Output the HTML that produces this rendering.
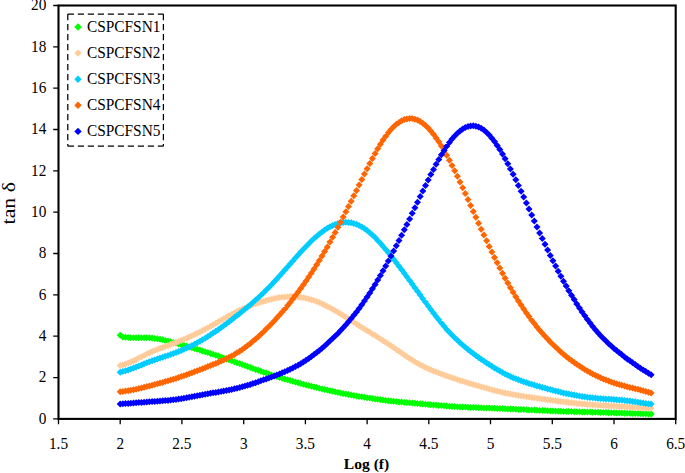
<!DOCTYPE html><html><head><meta charset="utf-8"><style>html,body{margin:0;padding:0;background:#fff;}svg{display:block;}text{font-family:"Liberation Serif",serif;fill:#000;}</style></head><body>
<svg width="685" height="473" viewBox="0 0 685 473">
<rect x="0" y="0" width="685" height="473" fill="#fff"/>
<path fill="#00ff00" d="M120.2 331.7l3.5 3.5l-3.5 3.5l-3.5 -3.5zM122.9 333.4l3.5 3.5l-3.5 3.5l-3.5 -3.5zM125.5 333.8l3.5 3.5l-3.5 3.5l-3.5 -3.5zM128.2 334.1l3.5 3.5l-3.5 3.5l-3.5 -3.5zM130.8 334.2l3.5 3.5l-3.5 3.5l-3.5 -3.5zM133.5 334.3l3.5 3.5l-3.5 3.5l-3.5 -3.5zM136.1 334.3l3.5 3.5l-3.5 3.5l-3.5 -3.5zM138.8 334.2l3.5 3.5l-3.5 3.5l-3.5 -3.5zM141.5 334.2l3.5 3.5l-3.5 3.5l-3.5 -3.5zM144.1 334.2l3.5 3.5l-3.5 3.5l-3.5 -3.5zM146.8 334.2l3.5 3.5l-3.5 3.5l-3.5 -3.5zM149.4 334.3l3.5 3.5l-3.5 3.5l-3.5 -3.5zM152.1 334.6l3.5 3.5l-3.5 3.5l-3.5 -3.5zM154.7 334.9l3.5 3.5l-3.5 3.5l-3.5 -3.5zM157.4 335.3l3.5 3.5l-3.5 3.5l-3.5 -3.5zM160.0 335.7l3.5 3.5l-3.5 3.5l-3.5 -3.5zM162.7 336.3l3.5 3.5l-3.5 3.5l-3.5 -3.5zM165.3 336.9l3.5 3.5l-3.5 3.5l-3.5 -3.5zM168.0 337.5l3.5 3.5l-3.5 3.5l-3.5 -3.5zM170.7 338.2l3.5 3.5l-3.5 3.5l-3.5 -3.5zM173.3 338.9l3.5 3.5l-3.5 3.5l-3.5 -3.5zM176.0 339.6l3.5 3.5l-3.5 3.5l-3.5 -3.5zM178.6 340.4l3.5 3.5l-3.5 3.5l-3.5 -3.5zM181.3 341.1l3.5 3.5l-3.5 3.5l-3.5 -3.5zM183.9 341.9l3.5 3.5l-3.5 3.5l-3.5 -3.5zM186.6 342.6l3.5 3.5l-3.5 3.5l-3.5 -3.5zM189.2 343.4l3.5 3.5l-3.5 3.5l-3.5 -3.5zM191.9 344.2l3.5 3.5l-3.5 3.5l-3.5 -3.5zM194.5 345.0l3.5 3.5l-3.5 3.5l-3.5 -3.5zM197.2 345.8l3.5 3.5l-3.5 3.5l-3.5 -3.5zM199.9 346.6l3.5 3.5l-3.5 3.5l-3.5 -3.5zM202.5 347.4l3.5 3.5l-3.5 3.5l-3.5 -3.5zM205.2 348.2l3.5 3.5l-3.5 3.5l-3.5 -3.5zM207.8 349.1l3.5 3.5l-3.5 3.5l-3.5 -3.5zM210.5 349.9l3.5 3.5l-3.5 3.5l-3.5 -3.5zM213.1 350.8l3.5 3.5l-3.5 3.5l-3.5 -3.5zM215.8 351.7l3.5 3.5l-3.5 3.5l-3.5 -3.5zM218.4 352.6l3.5 3.5l-3.5 3.5l-3.5 -3.5zM221.1 353.5l3.5 3.5l-3.5 3.5l-3.5 -3.5zM223.7 354.4l3.5 3.5l-3.5 3.5l-3.5 -3.5zM226.4 355.4l3.5 3.5l-3.5 3.5l-3.5 -3.5zM229.1 356.3l3.5 3.5l-3.5 3.5l-3.5 -3.5zM231.7 357.2l3.5 3.5l-3.5 3.5l-3.5 -3.5zM234.4 358.2l3.5 3.5l-3.5 3.5l-3.5 -3.5zM237.0 359.2l3.5 3.5l-3.5 3.5l-3.5 -3.5zM239.7 360.1l3.5 3.5l-3.5 3.5l-3.5 -3.5zM242.3 361.1l3.5 3.5l-3.5 3.5l-3.5 -3.5zM245.0 362.1l3.5 3.5l-3.5 3.5l-3.5 -3.5zM247.6 363.0l3.5 3.5l-3.5 3.5l-3.5 -3.5zM250.3 364.0l3.5 3.5l-3.5 3.5l-3.5 -3.5zM252.9 364.9l3.5 3.5l-3.5 3.5l-3.5 -3.5zM255.6 365.9l3.5 3.5l-3.5 3.5l-3.5 -3.5zM258.3 366.8l3.5 3.5l-3.5 3.5l-3.5 -3.5zM260.9 367.8l3.5 3.5l-3.5 3.5l-3.5 -3.5zM263.6 368.7l3.5 3.5l-3.5 3.5l-3.5 -3.5zM266.2 369.6l3.5 3.5l-3.5 3.5l-3.5 -3.5zM268.9 370.5l3.5 3.5l-3.5 3.5l-3.5 -3.5zM271.5 371.4l3.5 3.5l-3.5 3.5l-3.5 -3.5zM274.2 372.2l3.5 3.5l-3.5 3.5l-3.5 -3.5zM276.8 373.0l3.5 3.5l-3.5 3.5l-3.5 -3.5zM279.5 373.9l3.5 3.5l-3.5 3.5l-3.5 -3.5zM282.2 374.7l3.5 3.5l-3.5 3.5l-3.5 -3.5zM284.8 375.5l3.5 3.5l-3.5 3.5l-3.5 -3.5zM287.5 376.2l3.5 3.5l-3.5 3.5l-3.5 -3.5zM290.1 377.0l3.5 3.5l-3.5 3.5l-3.5 -3.5zM292.8 377.8l3.5 3.5l-3.5 3.5l-3.5 -3.5zM295.4 378.5l3.5 3.5l-3.5 3.5l-3.5 -3.5zM298.1 379.2l3.5 3.5l-3.5 3.5l-3.5 -3.5zM300.7 380.0l3.5 3.5l-3.5 3.5l-3.5 -3.5zM303.4 380.7l3.5 3.5l-3.5 3.5l-3.5 -3.5zM306.0 381.4l3.5 3.5l-3.5 3.5l-3.5 -3.5zM308.7 382.1l3.5 3.5l-3.5 3.5l-3.5 -3.5zM311.4 382.8l3.5 3.5l-3.5 3.5l-3.5 -3.5zM314.0 383.4l3.5 3.5l-3.5 3.5l-3.5 -3.5zM316.7 384.1l3.5 3.5l-3.5 3.5l-3.5 -3.5zM319.3 384.7l3.5 3.5l-3.5 3.5l-3.5 -3.5zM322.0 385.4l3.5 3.5l-3.5 3.5l-3.5 -3.5zM324.6 386.0l3.5 3.5l-3.5 3.5l-3.5 -3.5zM327.3 386.6l3.5 3.5l-3.5 3.5l-3.5 -3.5zM329.9 387.2l3.5 3.5l-3.5 3.5l-3.5 -3.5zM332.6 387.8l3.5 3.5l-3.5 3.5l-3.5 -3.5zM335.2 388.3l3.5 3.5l-3.5 3.5l-3.5 -3.5zM337.9 388.9l3.5 3.5l-3.5 3.5l-3.5 -3.5zM340.6 389.4l3.5 3.5l-3.5 3.5l-3.5 -3.5zM343.2 389.9l3.5 3.5l-3.5 3.5l-3.5 -3.5zM345.9 390.5l3.5 3.5l-3.5 3.5l-3.5 -3.5zM348.5 391.0l3.5 3.5l-3.5 3.5l-3.5 -3.5zM351.2 391.4l3.5 3.5l-3.5 3.5l-3.5 -3.5zM353.8 391.9l3.5 3.5l-3.5 3.5l-3.5 -3.5zM356.5 392.4l3.5 3.5l-3.5 3.5l-3.5 -3.5zM359.1 392.9l3.5 3.5l-3.5 3.5l-3.5 -3.5zM361.8 393.3l3.5 3.5l-3.5 3.5l-3.5 -3.5zM364.4 393.8l3.5 3.5l-3.5 3.5l-3.5 -3.5zM367.1 394.2l3.5 3.5l-3.5 3.5l-3.5 -3.5zM369.8 394.6l3.5 3.5l-3.5 3.5l-3.5 -3.5zM372.4 395.0l3.5 3.5l-3.5 3.5l-3.5 -3.5zM375.1 395.4l3.5 3.5l-3.5 3.5l-3.5 -3.5zM377.7 395.8l3.5 3.5l-3.5 3.5l-3.5 -3.5zM380.4 396.2l3.5 3.5l-3.5 3.5l-3.5 -3.5zM383.0 396.6l3.5 3.5l-3.5 3.5l-3.5 -3.5zM385.7 396.9l3.5 3.5l-3.5 3.5l-3.5 -3.5zM388.3 397.2l3.5 3.5l-3.5 3.5l-3.5 -3.5zM391.0 397.5l3.5 3.5l-3.5 3.5l-3.5 -3.5zM393.6 397.8l3.5 3.5l-3.5 3.5l-3.5 -3.5zM396.3 398.1l3.5 3.5l-3.5 3.5l-3.5 -3.5zM399.0 398.4l3.5 3.5l-3.5 3.5l-3.5 -3.5zM401.6 398.6l3.5 3.5l-3.5 3.5l-3.5 -3.5zM404.3 398.9l3.5 3.5l-3.5 3.5l-3.5 -3.5zM406.9 399.1l3.5 3.5l-3.5 3.5l-3.5 -3.5zM409.6 399.3l3.5 3.5l-3.5 3.5l-3.5 -3.5zM412.2 399.5l3.5 3.5l-3.5 3.5l-3.5 -3.5zM414.9 399.8l3.5 3.5l-3.5 3.5l-3.5 -3.5zM417.5 400.0l3.5 3.5l-3.5 3.5l-3.5 -3.5zM420.2 400.2l3.5 3.5l-3.5 3.5l-3.5 -3.5zM422.8 400.5l3.5 3.5l-3.5 3.5l-3.5 -3.5zM425.5 400.7l3.5 3.5l-3.5 3.5l-3.5 -3.5zM428.2 401.0l3.5 3.5l-3.5 3.5l-3.5 -3.5zM430.8 401.2l3.5 3.5l-3.5 3.5l-3.5 -3.5zM433.5 401.4l3.5 3.5l-3.5 3.5l-3.5 -3.5zM436.1 401.6l3.5 3.5l-3.5 3.5l-3.5 -3.5zM438.8 401.9l3.5 3.5l-3.5 3.5l-3.5 -3.5zM441.4 402.1l3.5 3.5l-3.5 3.5l-3.5 -3.5zM444.1 402.3l3.5 3.5l-3.5 3.5l-3.5 -3.5zM446.7 402.5l3.5 3.5l-3.5 3.5l-3.5 -3.5zM449.4 402.7l3.5 3.5l-3.5 3.5l-3.5 -3.5zM452.0 402.9l3.5 3.5l-3.5 3.5l-3.5 -3.5zM454.7 403.0l3.5 3.5l-3.5 3.5l-3.5 -3.5zM457.4 403.2l3.5 3.5l-3.5 3.5l-3.5 -3.5zM460.0 403.4l3.5 3.5l-3.5 3.5l-3.5 -3.5zM462.7 403.5l3.5 3.5l-3.5 3.5l-3.5 -3.5zM465.3 403.6l3.5 3.5l-3.5 3.5l-3.5 -3.5zM468.0 403.8l3.5 3.5l-3.5 3.5l-3.5 -3.5zM470.6 403.9l3.5 3.5l-3.5 3.5l-3.5 -3.5zM473.3 404.0l3.5 3.5l-3.5 3.5l-3.5 -3.5zM475.9 404.1l3.5 3.5l-3.5 3.5l-3.5 -3.5zM478.6 404.2l3.5 3.5l-3.5 3.5l-3.5 -3.5zM481.2 404.3l3.5 3.5l-3.5 3.5l-3.5 -3.5zM483.9 404.4l3.5 3.5l-3.5 3.5l-3.5 -3.5zM486.6 404.5l3.5 3.5l-3.5 3.5l-3.5 -3.5zM489.2 404.6l3.5 3.5l-3.5 3.5l-3.5 -3.5zM491.9 404.7l3.5 3.5l-3.5 3.5l-3.5 -3.5zM494.5 404.8l3.5 3.5l-3.5 3.5l-3.5 -3.5zM497.2 404.9l3.5 3.5l-3.5 3.5l-3.5 -3.5zM499.8 405.0l3.5 3.5l-3.5 3.5l-3.5 -3.5zM502.5 405.1l3.5 3.5l-3.5 3.5l-3.5 -3.5zM505.1 405.3l3.5 3.5l-3.5 3.5l-3.5 -3.5zM507.8 405.4l3.5 3.5l-3.5 3.5l-3.5 -3.5zM510.4 405.5l3.5 3.5l-3.5 3.5l-3.5 -3.5zM513.1 405.6l3.5 3.5l-3.5 3.5l-3.5 -3.5zM515.8 405.7l3.5 3.5l-3.5 3.5l-3.5 -3.5zM518.4 405.9l3.5 3.5l-3.5 3.5l-3.5 -3.5zM521.1 406.0l3.5 3.5l-3.5 3.5l-3.5 -3.5zM523.7 406.1l3.5 3.5l-3.5 3.5l-3.5 -3.5zM526.4 406.2l3.5 3.5l-3.5 3.5l-3.5 -3.5zM529.0 406.4l3.5 3.5l-3.5 3.5l-3.5 -3.5zM531.7 406.5l3.5 3.5l-3.5 3.5l-3.5 -3.5zM534.3 406.6l3.5 3.5l-3.5 3.5l-3.5 -3.5zM537.0 406.8l3.5 3.5l-3.5 3.5l-3.5 -3.5zM539.6 406.9l3.5 3.5l-3.5 3.5l-3.5 -3.5zM542.3 407.0l3.5 3.5l-3.5 3.5l-3.5 -3.5zM545.0 407.1l3.5 3.5l-3.5 3.5l-3.5 -3.5zM547.6 407.2l3.5 3.5l-3.5 3.5l-3.5 -3.5zM550.3 407.4l3.5 3.5l-3.5 3.5l-3.5 -3.5zM552.9 407.5l3.5 3.5l-3.5 3.5l-3.5 -3.5zM555.6 407.6l3.5 3.5l-3.5 3.5l-3.5 -3.5zM558.2 407.7l3.5 3.5l-3.5 3.5l-3.5 -3.5zM560.9 407.8l3.5 3.5l-3.5 3.5l-3.5 -3.5zM563.5 407.9l3.5 3.5l-3.5 3.5l-3.5 -3.5zM566.2 407.9l3.5 3.5l-3.5 3.5l-3.5 -3.5zM568.8 408.0l3.5 3.5l-3.5 3.5l-3.5 -3.5zM571.5 408.1l3.5 3.5l-3.5 3.5l-3.5 -3.5zM574.2 408.2l3.5 3.5l-3.5 3.5l-3.5 -3.5zM576.8 408.3l3.5 3.5l-3.5 3.5l-3.5 -3.5zM579.5 408.3l3.5 3.5l-3.5 3.5l-3.5 -3.5zM582.1 408.4l3.5 3.5l-3.5 3.5l-3.5 -3.5zM584.8 408.5l3.5 3.5l-3.5 3.5l-3.5 -3.5zM587.4 408.5l3.5 3.5l-3.5 3.5l-3.5 -3.5zM590.1 408.6l3.5 3.5l-3.5 3.5l-3.5 -3.5zM592.7 408.7l3.5 3.5l-3.5 3.5l-3.5 -3.5zM595.4 408.8l3.5 3.5l-3.5 3.5l-3.5 -3.5zM598.0 408.8l3.5 3.5l-3.5 3.5l-3.5 -3.5zM600.7 408.9l3.5 3.5l-3.5 3.5l-3.5 -3.5zM603.4 409.0l3.5 3.5l-3.5 3.5l-3.5 -3.5zM606.0 409.1l3.5 3.5l-3.5 3.5l-3.5 -3.5zM608.7 409.2l3.5 3.5l-3.5 3.5l-3.5 -3.5zM611.3 409.3l3.5 3.5l-3.5 3.5l-3.5 -3.5zM614.0 409.3l3.5 3.5l-3.5 3.5l-3.5 -3.5zM616.6 409.4l3.5 3.5l-3.5 3.5l-3.5 -3.5zM619.3 409.5l3.5 3.5l-3.5 3.5l-3.5 -3.5zM621.9 409.6l3.5 3.5l-3.5 3.5l-3.5 -3.5zM624.6 409.7l3.5 3.5l-3.5 3.5l-3.5 -3.5zM627.2 409.8l3.5 3.5l-3.5 3.5l-3.5 -3.5zM629.9 409.8l3.5 3.5l-3.5 3.5l-3.5 -3.5zM632.6 409.9l3.5 3.5l-3.5 3.5l-3.5 -3.5zM635.2 410.0l3.5 3.5l-3.5 3.5l-3.5 -3.5zM637.9 410.0l3.5 3.5l-3.5 3.5l-3.5 -3.5zM640.5 410.1l3.5 3.5l-3.5 3.5l-3.5 -3.5zM643.2 410.2l3.5 3.5l-3.5 3.5l-3.5 -3.5zM645.8 410.3l3.5 3.5l-3.5 3.5l-3.5 -3.5zM648.5 410.4l3.5 3.5l-3.5 3.5l-3.5 -3.5zM651.1 410.5l3.5 3.5l-3.5 3.5l-3.5 -3.5z"/>
<path fill="#ffcc99" d="M120.2 361.9l3.5 3.5l-3.5 3.5l-3.5 -3.5zM122.9 361.3l3.5 3.5l-3.5 3.5l-3.5 -3.5zM125.5 360.5l3.5 3.5l-3.5 3.5l-3.5 -3.5zM128.2 359.6l3.5 3.5l-3.5 3.5l-3.5 -3.5zM130.8 358.5l3.5 3.5l-3.5 3.5l-3.5 -3.5zM133.5 357.3l3.5 3.5l-3.5 3.5l-3.5 -3.5zM136.1 356.0l3.5 3.5l-3.5 3.5l-3.5 -3.5zM138.8 354.6l3.5 3.5l-3.5 3.5l-3.5 -3.5zM141.5 353.3l3.5 3.5l-3.5 3.5l-3.5 -3.5zM144.1 351.9l3.5 3.5l-3.5 3.5l-3.5 -3.5zM146.8 350.6l3.5 3.5l-3.5 3.5l-3.5 -3.5zM149.4 349.3l3.5 3.5l-3.5 3.5l-3.5 -3.5zM152.1 348.1l3.5 3.5l-3.5 3.5l-3.5 -3.5zM154.7 347.0l3.5 3.5l-3.5 3.5l-3.5 -3.5zM157.4 345.9l3.5 3.5l-3.5 3.5l-3.5 -3.5zM160.0 344.8l3.5 3.5l-3.5 3.5l-3.5 -3.5zM162.7 343.9l3.5 3.5l-3.5 3.5l-3.5 -3.5zM165.3 342.9l3.5 3.5l-3.5 3.5l-3.5 -3.5zM168.0 341.9l3.5 3.5l-3.5 3.5l-3.5 -3.5zM170.7 341.0l3.5 3.5l-3.5 3.5l-3.5 -3.5zM173.3 340.0l3.5 3.5l-3.5 3.5l-3.5 -3.5zM176.0 339.0l3.5 3.5l-3.5 3.5l-3.5 -3.5zM178.6 338.0l3.5 3.5l-3.5 3.5l-3.5 -3.5zM181.3 336.9l3.5 3.5l-3.5 3.5l-3.5 -3.5zM183.9 335.8l3.5 3.5l-3.5 3.5l-3.5 -3.5zM186.6 334.7l3.5 3.5l-3.5 3.5l-3.5 -3.5zM189.2 333.5l3.5 3.5l-3.5 3.5l-3.5 -3.5zM191.9 332.3l3.5 3.5l-3.5 3.5l-3.5 -3.5zM194.5 331.0l3.5 3.5l-3.5 3.5l-3.5 -3.5zM197.2 329.8l3.5 3.5l-3.5 3.5l-3.5 -3.5zM199.9 328.4l3.5 3.5l-3.5 3.5l-3.5 -3.5zM202.5 327.1l3.5 3.5l-3.5 3.5l-3.5 -3.5zM205.2 325.7l3.5 3.5l-3.5 3.5l-3.5 -3.5zM207.8 324.2l3.5 3.5l-3.5 3.5l-3.5 -3.5zM210.5 322.8l3.5 3.5l-3.5 3.5l-3.5 -3.5zM213.1 321.3l3.5 3.5l-3.5 3.5l-3.5 -3.5zM215.8 319.8l3.5 3.5l-3.5 3.5l-3.5 -3.5zM218.4 318.3l3.5 3.5l-3.5 3.5l-3.5 -3.5zM221.1 316.8l3.5 3.5l-3.5 3.5l-3.5 -3.5zM223.7 315.3l3.5 3.5l-3.5 3.5l-3.5 -3.5zM226.4 313.8l3.5 3.5l-3.5 3.5l-3.5 -3.5zM229.1 312.3l3.5 3.5l-3.5 3.5l-3.5 -3.5zM231.7 310.9l3.5 3.5l-3.5 3.5l-3.5 -3.5zM234.4 309.5l3.5 3.5l-3.5 3.5l-3.5 -3.5zM237.0 308.1l3.5 3.5l-3.5 3.5l-3.5 -3.5zM239.7 306.8l3.5 3.5l-3.5 3.5l-3.5 -3.5zM242.3 305.6l3.5 3.5l-3.5 3.5l-3.5 -3.5zM245.0 304.4l3.5 3.5l-3.5 3.5l-3.5 -3.5zM247.6 303.3l3.5 3.5l-3.5 3.5l-3.5 -3.5zM250.3 302.2l3.5 3.5l-3.5 3.5l-3.5 -3.5zM252.9 301.2l3.5 3.5l-3.5 3.5l-3.5 -3.5zM255.6 300.3l3.5 3.5l-3.5 3.5l-3.5 -3.5zM258.3 299.4l3.5 3.5l-3.5 3.5l-3.5 -3.5zM260.9 298.5l3.5 3.5l-3.5 3.5l-3.5 -3.5zM263.6 297.7l3.5 3.5l-3.5 3.5l-3.5 -3.5zM266.2 297.0l3.5 3.5l-3.5 3.5l-3.5 -3.5zM268.9 296.3l3.5 3.5l-3.5 3.5l-3.5 -3.5zM271.5 295.7l3.5 3.5l-3.5 3.5l-3.5 -3.5zM274.2 295.1l3.5 3.5l-3.5 3.5l-3.5 -3.5zM276.8 294.6l3.5 3.5l-3.5 3.5l-3.5 -3.5zM279.5 294.1l3.5 3.5l-3.5 3.5l-3.5 -3.5zM282.2 293.7l3.5 3.5l-3.5 3.5l-3.5 -3.5zM284.8 293.5l3.5 3.5l-3.5 3.5l-3.5 -3.5zM287.5 293.2l3.5 3.5l-3.5 3.5l-3.5 -3.5zM290.1 293.1l3.5 3.5l-3.5 3.5l-3.5 -3.5zM292.8 293.1l3.5 3.5l-3.5 3.5l-3.5 -3.5zM295.4 293.2l3.5 3.5l-3.5 3.5l-3.5 -3.5zM298.1 293.4l3.5 3.5l-3.5 3.5l-3.5 -3.5zM300.7 293.8l3.5 3.5l-3.5 3.5l-3.5 -3.5zM303.4 294.2l3.5 3.5l-3.5 3.5l-3.5 -3.5zM306.0 294.8l3.5 3.5l-3.5 3.5l-3.5 -3.5zM308.7 295.4l3.5 3.5l-3.5 3.5l-3.5 -3.5zM311.4 296.2l3.5 3.5l-3.5 3.5l-3.5 -3.5zM314.0 297.1l3.5 3.5l-3.5 3.5l-3.5 -3.5zM316.7 298.1l3.5 3.5l-3.5 3.5l-3.5 -3.5zM319.3 299.1l3.5 3.5l-3.5 3.5l-3.5 -3.5zM322.0 300.3l3.5 3.5l-3.5 3.5l-3.5 -3.5zM324.6 301.5l3.5 3.5l-3.5 3.5l-3.5 -3.5zM327.3 302.9l3.5 3.5l-3.5 3.5l-3.5 -3.5zM329.9 304.2l3.5 3.5l-3.5 3.5l-3.5 -3.5zM332.6 305.7l3.5 3.5l-3.5 3.5l-3.5 -3.5zM335.2 307.2l3.5 3.5l-3.5 3.5l-3.5 -3.5zM337.9 308.8l3.5 3.5l-3.5 3.5l-3.5 -3.5zM340.6 310.4l3.5 3.5l-3.5 3.5l-3.5 -3.5zM343.2 312.0l3.5 3.5l-3.5 3.5l-3.5 -3.5zM345.9 313.7l3.5 3.5l-3.5 3.5l-3.5 -3.5zM348.5 315.4l3.5 3.5l-3.5 3.5l-3.5 -3.5zM351.2 317.1l3.5 3.5l-3.5 3.5l-3.5 -3.5zM353.8 318.8l3.5 3.5l-3.5 3.5l-3.5 -3.5zM356.5 320.5l3.5 3.5l-3.5 3.5l-3.5 -3.5zM359.1 322.2l3.5 3.5l-3.5 3.5l-3.5 -3.5zM361.8 323.9l3.5 3.5l-3.5 3.5l-3.5 -3.5zM364.4 325.5l3.5 3.5l-3.5 3.5l-3.5 -3.5zM367.1 327.2l3.5 3.5l-3.5 3.5l-3.5 -3.5zM369.8 328.8l3.5 3.5l-3.5 3.5l-3.5 -3.5zM372.4 330.4l3.5 3.5l-3.5 3.5l-3.5 -3.5zM375.1 332.1l3.5 3.5l-3.5 3.5l-3.5 -3.5zM377.7 333.7l3.5 3.5l-3.5 3.5l-3.5 -3.5zM380.4 335.4l3.5 3.5l-3.5 3.5l-3.5 -3.5zM383.0 337.1l3.5 3.5l-3.5 3.5l-3.5 -3.5zM385.7 338.8l3.5 3.5l-3.5 3.5l-3.5 -3.5zM388.3 340.6l3.5 3.5l-3.5 3.5l-3.5 -3.5zM391.0 342.3l3.5 3.5l-3.5 3.5l-3.5 -3.5zM393.6 344.1l3.5 3.5l-3.5 3.5l-3.5 -3.5zM396.3 345.9l3.5 3.5l-3.5 3.5l-3.5 -3.5zM399.0 347.8l3.5 3.5l-3.5 3.5l-3.5 -3.5zM401.6 349.6l3.5 3.5l-3.5 3.5l-3.5 -3.5zM404.3 351.4l3.5 3.5l-3.5 3.5l-3.5 -3.5zM406.9 353.2l3.5 3.5l-3.5 3.5l-3.5 -3.5zM409.6 354.9l3.5 3.5l-3.5 3.5l-3.5 -3.5zM412.2 356.6l3.5 3.5l-3.5 3.5l-3.5 -3.5zM414.9 358.2l3.5 3.5l-3.5 3.5l-3.5 -3.5zM417.5 359.7l3.5 3.5l-3.5 3.5l-3.5 -3.5zM420.2 361.2l3.5 3.5l-3.5 3.5l-3.5 -3.5zM422.8 362.6l3.5 3.5l-3.5 3.5l-3.5 -3.5zM425.5 363.9l3.5 3.5l-3.5 3.5l-3.5 -3.5zM428.2 365.2l3.5 3.5l-3.5 3.5l-3.5 -3.5zM430.8 366.3l3.5 3.5l-3.5 3.5l-3.5 -3.5zM433.5 367.5l3.5 3.5l-3.5 3.5l-3.5 -3.5zM436.1 368.5l3.5 3.5l-3.5 3.5l-3.5 -3.5zM438.8 369.6l3.5 3.5l-3.5 3.5l-3.5 -3.5zM441.4 370.5l3.5 3.5l-3.5 3.5l-3.5 -3.5zM444.1 371.5l3.5 3.5l-3.5 3.5l-3.5 -3.5zM446.7 372.4l3.5 3.5l-3.5 3.5l-3.5 -3.5zM449.4 373.3l3.5 3.5l-3.5 3.5l-3.5 -3.5zM452.0 374.2l3.5 3.5l-3.5 3.5l-3.5 -3.5zM454.7 375.1l3.5 3.5l-3.5 3.5l-3.5 -3.5zM457.4 376.0l3.5 3.5l-3.5 3.5l-3.5 -3.5zM460.0 376.9l3.5 3.5l-3.5 3.5l-3.5 -3.5zM462.7 377.7l3.5 3.5l-3.5 3.5l-3.5 -3.5zM465.3 378.6l3.5 3.5l-3.5 3.5l-3.5 -3.5zM468.0 379.4l3.5 3.5l-3.5 3.5l-3.5 -3.5zM470.6 380.2l3.5 3.5l-3.5 3.5l-3.5 -3.5zM473.3 381.0l3.5 3.5l-3.5 3.5l-3.5 -3.5zM475.9 381.8l3.5 3.5l-3.5 3.5l-3.5 -3.5zM478.6 382.6l3.5 3.5l-3.5 3.5l-3.5 -3.5zM481.2 383.3l3.5 3.5l-3.5 3.5l-3.5 -3.5zM483.9 384.1l3.5 3.5l-3.5 3.5l-3.5 -3.5zM486.6 384.8l3.5 3.5l-3.5 3.5l-3.5 -3.5zM489.2 385.6l3.5 3.5l-3.5 3.5l-3.5 -3.5zM491.9 386.3l3.5 3.5l-3.5 3.5l-3.5 -3.5zM494.5 387.0l3.5 3.5l-3.5 3.5l-3.5 -3.5zM497.2 387.6l3.5 3.5l-3.5 3.5l-3.5 -3.5zM499.8 388.3l3.5 3.5l-3.5 3.5l-3.5 -3.5zM502.5 388.9l3.5 3.5l-3.5 3.5l-3.5 -3.5zM505.1 389.5l3.5 3.5l-3.5 3.5l-3.5 -3.5zM507.8 390.0l3.5 3.5l-3.5 3.5l-3.5 -3.5zM510.4 390.6l3.5 3.5l-3.5 3.5l-3.5 -3.5zM513.1 391.1l3.5 3.5l-3.5 3.5l-3.5 -3.5zM515.8 391.5l3.5 3.5l-3.5 3.5l-3.5 -3.5zM518.4 392.0l3.5 3.5l-3.5 3.5l-3.5 -3.5zM521.1 392.4l3.5 3.5l-3.5 3.5l-3.5 -3.5zM523.7 392.8l3.5 3.5l-3.5 3.5l-3.5 -3.5zM526.4 393.2l3.5 3.5l-3.5 3.5l-3.5 -3.5zM529.0 393.6l3.5 3.5l-3.5 3.5l-3.5 -3.5zM531.7 394.0l3.5 3.5l-3.5 3.5l-3.5 -3.5zM534.3 394.3l3.5 3.5l-3.5 3.5l-3.5 -3.5zM537.0 394.7l3.5 3.5l-3.5 3.5l-3.5 -3.5zM539.6 395.1l3.5 3.5l-3.5 3.5l-3.5 -3.5zM542.3 395.5l3.5 3.5l-3.5 3.5l-3.5 -3.5zM545.0 395.8l3.5 3.5l-3.5 3.5l-3.5 -3.5zM547.6 396.2l3.5 3.5l-3.5 3.5l-3.5 -3.5zM550.3 396.6l3.5 3.5l-3.5 3.5l-3.5 -3.5zM552.9 396.9l3.5 3.5l-3.5 3.5l-3.5 -3.5zM555.6 397.3l3.5 3.5l-3.5 3.5l-3.5 -3.5zM558.2 397.7l3.5 3.5l-3.5 3.5l-3.5 -3.5zM560.9 398.0l3.5 3.5l-3.5 3.5l-3.5 -3.5zM563.5 398.3l3.5 3.5l-3.5 3.5l-3.5 -3.5zM566.2 398.7l3.5 3.5l-3.5 3.5l-3.5 -3.5zM568.8 399.0l3.5 3.5l-3.5 3.5l-3.5 -3.5zM571.5 399.3l3.5 3.5l-3.5 3.5l-3.5 -3.5zM574.2 399.6l3.5 3.5l-3.5 3.5l-3.5 -3.5zM576.8 399.9l3.5 3.5l-3.5 3.5l-3.5 -3.5zM579.5 400.1l3.5 3.5l-3.5 3.5l-3.5 -3.5zM582.1 400.4l3.5 3.5l-3.5 3.5l-3.5 -3.5zM584.8 400.6l3.5 3.5l-3.5 3.5l-3.5 -3.5zM587.4 400.9l3.5 3.5l-3.5 3.5l-3.5 -3.5zM590.1 401.1l3.5 3.5l-3.5 3.5l-3.5 -3.5zM592.7 401.3l3.5 3.5l-3.5 3.5l-3.5 -3.5zM595.4 401.5l3.5 3.5l-3.5 3.5l-3.5 -3.5zM598.0 401.7l3.5 3.5l-3.5 3.5l-3.5 -3.5zM600.7 401.8l3.5 3.5l-3.5 3.5l-3.5 -3.5zM603.4 402.0l3.5 3.5l-3.5 3.5l-3.5 -3.5zM606.0 402.2l3.5 3.5l-3.5 3.5l-3.5 -3.5zM608.7 402.3l3.5 3.5l-3.5 3.5l-3.5 -3.5zM611.3 402.5l3.5 3.5l-3.5 3.5l-3.5 -3.5zM614.0 402.6l3.5 3.5l-3.5 3.5l-3.5 -3.5zM616.6 402.7l3.5 3.5l-3.5 3.5l-3.5 -3.5zM619.3 402.9l3.5 3.5l-3.5 3.5l-3.5 -3.5zM621.9 403.0l3.5 3.5l-3.5 3.5l-3.5 -3.5zM624.6 403.2l3.5 3.5l-3.5 3.5l-3.5 -3.5zM627.2 403.4l3.5 3.5l-3.5 3.5l-3.5 -3.5zM629.9 403.5l3.5 3.5l-3.5 3.5l-3.5 -3.5zM632.6 403.7l3.5 3.5l-3.5 3.5l-3.5 -3.5zM635.2 403.9l3.5 3.5l-3.5 3.5l-3.5 -3.5zM637.9 404.1l3.5 3.5l-3.5 3.5l-3.5 -3.5zM640.5 404.2l3.5 3.5l-3.5 3.5l-3.5 -3.5zM643.2 404.4l3.5 3.5l-3.5 3.5l-3.5 -3.5zM645.8 404.4l3.5 3.5l-3.5 3.5l-3.5 -3.5zM648.5 404.5l3.5 3.5l-3.5 3.5l-3.5 -3.5zM651.1 404.5l3.5 3.5l-3.5 3.5l-3.5 -3.5z"/>
<path fill="#00ccff" d="M120.2 368.8l3.5 3.5l-3.5 3.5l-3.5 -3.5zM122.9 368.1l3.5 3.5l-3.5 3.5l-3.5 -3.5zM125.5 367.3l3.5 3.5l-3.5 3.5l-3.5 -3.5zM128.2 366.5l3.5 3.5l-3.5 3.5l-3.5 -3.5zM130.8 365.6l3.5 3.5l-3.5 3.5l-3.5 -3.5zM133.5 364.6l3.5 3.5l-3.5 3.5l-3.5 -3.5zM136.1 363.5l3.5 3.5l-3.5 3.5l-3.5 -3.5zM138.8 362.5l3.5 3.5l-3.5 3.5l-3.5 -3.5zM141.5 361.4l3.5 3.5l-3.5 3.5l-3.5 -3.5zM144.1 360.3l3.5 3.5l-3.5 3.5l-3.5 -3.5zM146.8 359.3l3.5 3.5l-3.5 3.5l-3.5 -3.5zM149.4 358.3l3.5 3.5l-3.5 3.5l-3.5 -3.5zM152.1 357.3l3.5 3.5l-3.5 3.5l-3.5 -3.5zM154.7 356.4l3.5 3.5l-3.5 3.5l-3.5 -3.5zM157.4 355.4l3.5 3.5l-3.5 3.5l-3.5 -3.5zM160.0 354.5l3.5 3.5l-3.5 3.5l-3.5 -3.5zM162.7 353.7l3.5 3.5l-3.5 3.5l-3.5 -3.5zM165.3 352.8l3.5 3.5l-3.5 3.5l-3.5 -3.5zM168.0 351.9l3.5 3.5l-3.5 3.5l-3.5 -3.5zM170.7 351.0l3.5 3.5l-3.5 3.5l-3.5 -3.5zM173.3 350.0l3.5 3.5l-3.5 3.5l-3.5 -3.5zM176.0 349.1l3.5 3.5l-3.5 3.5l-3.5 -3.5zM178.6 348.0l3.5 3.5l-3.5 3.5l-3.5 -3.5zM181.3 347.0l3.5 3.5l-3.5 3.5l-3.5 -3.5zM183.9 345.8l3.5 3.5l-3.5 3.5l-3.5 -3.5zM186.6 344.6l3.5 3.5l-3.5 3.5l-3.5 -3.5zM189.2 343.4l3.5 3.5l-3.5 3.5l-3.5 -3.5zM191.9 342.0l3.5 3.5l-3.5 3.5l-3.5 -3.5zM194.5 340.7l3.5 3.5l-3.5 3.5l-3.5 -3.5zM197.2 339.3l3.5 3.5l-3.5 3.5l-3.5 -3.5zM199.9 337.8l3.5 3.5l-3.5 3.5l-3.5 -3.5zM202.5 336.2l3.5 3.5l-3.5 3.5l-3.5 -3.5zM205.2 334.7l3.5 3.5l-3.5 3.5l-3.5 -3.5zM207.8 333.0l3.5 3.5l-3.5 3.5l-3.5 -3.5zM210.5 331.3l3.5 3.5l-3.5 3.5l-3.5 -3.5zM213.1 329.6l3.5 3.5l-3.5 3.5l-3.5 -3.5zM215.8 327.8l3.5 3.5l-3.5 3.5l-3.5 -3.5zM218.4 326.0l3.5 3.5l-3.5 3.5l-3.5 -3.5zM221.1 324.1l3.5 3.5l-3.5 3.5l-3.5 -3.5zM223.7 322.2l3.5 3.5l-3.5 3.5l-3.5 -3.5zM226.4 320.2l3.5 3.5l-3.5 3.5l-3.5 -3.5zM229.1 318.2l3.5 3.5l-3.5 3.5l-3.5 -3.5zM231.7 316.2l3.5 3.5l-3.5 3.5l-3.5 -3.5zM234.4 314.1l3.5 3.5l-3.5 3.5l-3.5 -3.5zM237.0 312.1l3.5 3.5l-3.5 3.5l-3.5 -3.5zM239.7 309.9l3.5 3.5l-3.5 3.5l-3.5 -3.5zM242.3 307.8l3.5 3.5l-3.5 3.5l-3.5 -3.5zM245.0 305.6l3.5 3.5l-3.5 3.5l-3.5 -3.5zM247.6 303.4l3.5 3.5l-3.5 3.5l-3.5 -3.5zM250.3 301.2l3.5 3.5l-3.5 3.5l-3.5 -3.5zM252.9 298.9l3.5 3.5l-3.5 3.5l-3.5 -3.5zM255.6 296.6l3.5 3.5l-3.5 3.5l-3.5 -3.5zM258.3 294.2l3.5 3.5l-3.5 3.5l-3.5 -3.5zM260.9 291.7l3.5 3.5l-3.5 3.5l-3.5 -3.5zM263.6 289.2l3.5 3.5l-3.5 3.5l-3.5 -3.5zM266.2 286.6l3.5 3.5l-3.5 3.5l-3.5 -3.5zM268.9 283.9l3.5 3.5l-3.5 3.5l-3.5 -3.5zM271.5 281.2l3.5 3.5l-3.5 3.5l-3.5 -3.5zM274.2 278.3l3.5 3.5l-3.5 3.5l-3.5 -3.5zM276.8 275.5l3.5 3.5l-3.5 3.5l-3.5 -3.5zM279.5 272.5l3.5 3.5l-3.5 3.5l-3.5 -3.5zM282.2 269.5l3.5 3.5l-3.5 3.5l-3.5 -3.5zM284.8 266.5l3.5 3.5l-3.5 3.5l-3.5 -3.5zM287.5 263.5l3.5 3.5l-3.5 3.5l-3.5 -3.5zM290.1 260.5l3.5 3.5l-3.5 3.5l-3.5 -3.5zM292.8 257.5l3.5 3.5l-3.5 3.5l-3.5 -3.5zM295.4 254.5l3.5 3.5l-3.5 3.5l-3.5 -3.5zM298.1 251.5l3.5 3.5l-3.5 3.5l-3.5 -3.5zM300.7 248.6l3.5 3.5l-3.5 3.5l-3.5 -3.5zM303.4 245.7l3.5 3.5l-3.5 3.5l-3.5 -3.5zM306.0 242.9l3.5 3.5l-3.5 3.5l-3.5 -3.5zM308.7 240.2l3.5 3.5l-3.5 3.5l-3.5 -3.5zM311.4 237.6l3.5 3.5l-3.5 3.5l-3.5 -3.5zM314.0 235.1l3.5 3.5l-3.5 3.5l-3.5 -3.5zM316.7 232.7l3.5 3.5l-3.5 3.5l-3.5 -3.5zM319.3 230.5l3.5 3.5l-3.5 3.5l-3.5 -3.5zM322.0 228.4l3.5 3.5l-3.5 3.5l-3.5 -3.5zM324.6 226.5l3.5 3.5l-3.5 3.5l-3.5 -3.5zM327.3 224.8l3.5 3.5l-3.5 3.5l-3.5 -3.5zM329.9 223.3l3.5 3.5l-3.5 3.5l-3.5 -3.5zM332.6 222.0l3.5 3.5l-3.5 3.5l-3.5 -3.5zM335.2 220.9l3.5 3.5l-3.5 3.5l-3.5 -3.5zM337.9 220.0l3.5 3.5l-3.5 3.5l-3.5 -3.5zM340.6 219.4l3.5 3.5l-3.5 3.5l-3.5 -3.5zM343.2 219.0l3.5 3.5l-3.5 3.5l-3.5 -3.5zM345.9 218.8l3.5 3.5l-3.5 3.5l-3.5 -3.5zM348.5 218.9l3.5 3.5l-3.5 3.5l-3.5 -3.5zM351.2 219.3l3.5 3.5l-3.5 3.5l-3.5 -3.5zM353.8 219.9l3.5 3.5l-3.5 3.5l-3.5 -3.5zM356.5 220.8l3.5 3.5l-3.5 3.5l-3.5 -3.5zM359.1 221.9l3.5 3.5l-3.5 3.5l-3.5 -3.5zM361.8 223.4l3.5 3.5l-3.5 3.5l-3.5 -3.5zM364.4 225.0l3.5 3.5l-3.5 3.5l-3.5 -3.5zM367.1 227.0l3.5 3.5l-3.5 3.5l-3.5 -3.5zM369.8 229.2l3.5 3.5l-3.5 3.5l-3.5 -3.5zM372.4 231.5l3.5 3.5l-3.5 3.5l-3.5 -3.5zM375.1 234.1l3.5 3.5l-3.5 3.5l-3.5 -3.5zM377.7 236.9l3.5 3.5l-3.5 3.5l-3.5 -3.5zM380.4 239.7l3.5 3.5l-3.5 3.5l-3.5 -3.5zM383.0 242.8l3.5 3.5l-3.5 3.5l-3.5 -3.5zM385.7 245.9l3.5 3.5l-3.5 3.5l-3.5 -3.5zM388.3 249.1l3.5 3.5l-3.5 3.5l-3.5 -3.5zM391.0 252.4l3.5 3.5l-3.5 3.5l-3.5 -3.5zM393.6 255.8l3.5 3.5l-3.5 3.5l-3.5 -3.5zM396.3 259.2l3.5 3.5l-3.5 3.5l-3.5 -3.5zM399.0 262.7l3.5 3.5l-3.5 3.5l-3.5 -3.5zM401.6 266.2l3.5 3.5l-3.5 3.5l-3.5 -3.5zM404.3 269.7l3.5 3.5l-3.5 3.5l-3.5 -3.5zM406.9 273.3l3.5 3.5l-3.5 3.5l-3.5 -3.5zM409.6 276.9l3.5 3.5l-3.5 3.5l-3.5 -3.5zM412.2 280.5l3.5 3.5l-3.5 3.5l-3.5 -3.5zM414.9 284.2l3.5 3.5l-3.5 3.5l-3.5 -3.5zM417.5 287.8l3.5 3.5l-3.5 3.5l-3.5 -3.5zM420.2 291.5l3.5 3.5l-3.5 3.5l-3.5 -3.5zM422.8 295.2l3.5 3.5l-3.5 3.5l-3.5 -3.5zM425.5 298.8l3.5 3.5l-3.5 3.5l-3.5 -3.5zM428.2 302.4l3.5 3.5l-3.5 3.5l-3.5 -3.5zM430.8 306.0l3.5 3.5l-3.5 3.5l-3.5 -3.5zM433.5 309.5l3.5 3.5l-3.5 3.5l-3.5 -3.5zM436.1 313.0l3.5 3.5l-3.5 3.5l-3.5 -3.5zM438.8 316.3l3.5 3.5l-3.5 3.5l-3.5 -3.5zM441.4 319.6l3.5 3.5l-3.5 3.5l-3.5 -3.5zM444.1 322.8l3.5 3.5l-3.5 3.5l-3.5 -3.5zM446.7 325.9l3.5 3.5l-3.5 3.5l-3.5 -3.5zM449.4 328.8l3.5 3.5l-3.5 3.5l-3.5 -3.5zM452.0 331.6l3.5 3.5l-3.5 3.5l-3.5 -3.5zM454.7 334.3l3.5 3.5l-3.5 3.5l-3.5 -3.5zM457.4 336.8l3.5 3.5l-3.5 3.5l-3.5 -3.5zM460.0 339.3l3.5 3.5l-3.5 3.5l-3.5 -3.5zM462.7 341.6l3.5 3.5l-3.5 3.5l-3.5 -3.5zM465.3 343.8l3.5 3.5l-3.5 3.5l-3.5 -3.5zM468.0 346.0l3.5 3.5l-3.5 3.5l-3.5 -3.5zM470.6 348.0l3.5 3.5l-3.5 3.5l-3.5 -3.5zM473.3 350.0l3.5 3.5l-3.5 3.5l-3.5 -3.5zM475.9 352.0l3.5 3.5l-3.5 3.5l-3.5 -3.5zM478.6 353.9l3.5 3.5l-3.5 3.5l-3.5 -3.5zM481.2 355.8l3.5 3.5l-3.5 3.5l-3.5 -3.5zM483.9 357.6l3.5 3.5l-3.5 3.5l-3.5 -3.5zM486.6 359.4l3.5 3.5l-3.5 3.5l-3.5 -3.5zM489.2 361.1l3.5 3.5l-3.5 3.5l-3.5 -3.5zM491.9 362.8l3.5 3.5l-3.5 3.5l-3.5 -3.5zM494.5 364.4l3.5 3.5l-3.5 3.5l-3.5 -3.5zM497.2 366.0l3.5 3.5l-3.5 3.5l-3.5 -3.5zM499.8 367.6l3.5 3.5l-3.5 3.5l-3.5 -3.5zM502.5 369.0l3.5 3.5l-3.5 3.5l-3.5 -3.5zM505.1 370.4l3.5 3.5l-3.5 3.5l-3.5 -3.5zM507.8 371.7l3.5 3.5l-3.5 3.5l-3.5 -3.5zM510.4 373.0l3.5 3.5l-3.5 3.5l-3.5 -3.5zM513.1 374.2l3.5 3.5l-3.5 3.5l-3.5 -3.5zM515.8 375.3l3.5 3.5l-3.5 3.5l-3.5 -3.5zM518.4 376.3l3.5 3.5l-3.5 3.5l-3.5 -3.5zM521.1 377.3l3.5 3.5l-3.5 3.5l-3.5 -3.5zM523.7 378.2l3.5 3.5l-3.5 3.5l-3.5 -3.5zM526.4 379.1l3.5 3.5l-3.5 3.5l-3.5 -3.5zM529.0 380.0l3.5 3.5l-3.5 3.5l-3.5 -3.5zM531.7 380.8l3.5 3.5l-3.5 3.5l-3.5 -3.5zM534.3 381.6l3.5 3.5l-3.5 3.5l-3.5 -3.5zM537.0 382.4l3.5 3.5l-3.5 3.5l-3.5 -3.5zM539.6 383.1l3.5 3.5l-3.5 3.5l-3.5 -3.5zM542.3 383.9l3.5 3.5l-3.5 3.5l-3.5 -3.5zM545.0 384.6l3.5 3.5l-3.5 3.5l-3.5 -3.5zM547.6 385.4l3.5 3.5l-3.5 3.5l-3.5 -3.5zM550.3 386.1l3.5 3.5l-3.5 3.5l-3.5 -3.5zM552.9 386.8l3.5 3.5l-3.5 3.5l-3.5 -3.5zM555.6 387.5l3.5 3.5l-3.5 3.5l-3.5 -3.5zM558.2 388.1l3.5 3.5l-3.5 3.5l-3.5 -3.5zM560.9 388.8l3.5 3.5l-3.5 3.5l-3.5 -3.5zM563.5 389.4l3.5 3.5l-3.5 3.5l-3.5 -3.5zM566.2 390.0l3.5 3.5l-3.5 3.5l-3.5 -3.5zM568.8 390.5l3.5 3.5l-3.5 3.5l-3.5 -3.5zM571.5 391.1l3.5 3.5l-3.5 3.5l-3.5 -3.5zM574.2 391.6l3.5 3.5l-3.5 3.5l-3.5 -3.5zM576.8 392.1l3.5 3.5l-3.5 3.5l-3.5 -3.5zM579.5 392.5l3.5 3.5l-3.5 3.5l-3.5 -3.5zM582.1 392.9l3.5 3.5l-3.5 3.5l-3.5 -3.5zM584.8 393.3l3.5 3.5l-3.5 3.5l-3.5 -3.5zM587.4 393.7l3.5 3.5l-3.5 3.5l-3.5 -3.5zM590.1 394.0l3.5 3.5l-3.5 3.5l-3.5 -3.5zM592.7 394.3l3.5 3.5l-3.5 3.5l-3.5 -3.5zM595.4 394.6l3.5 3.5l-3.5 3.5l-3.5 -3.5zM598.0 394.9l3.5 3.5l-3.5 3.5l-3.5 -3.5zM600.7 395.1l3.5 3.5l-3.5 3.5l-3.5 -3.5zM603.4 395.3l3.5 3.5l-3.5 3.5l-3.5 -3.5zM606.0 395.5l3.5 3.5l-3.5 3.5l-3.5 -3.5zM608.7 395.6l3.5 3.5l-3.5 3.5l-3.5 -3.5zM611.3 395.8l3.5 3.5l-3.5 3.5l-3.5 -3.5zM614.0 396.0l3.5 3.5l-3.5 3.5l-3.5 -3.5zM616.6 396.2l3.5 3.5l-3.5 3.5l-3.5 -3.5zM619.3 396.4l3.5 3.5l-3.5 3.5l-3.5 -3.5zM621.9 396.6l3.5 3.5l-3.5 3.5l-3.5 -3.5zM624.6 396.9l3.5 3.5l-3.5 3.5l-3.5 -3.5zM627.2 397.2l3.5 3.5l-3.5 3.5l-3.5 -3.5zM629.9 397.5l3.5 3.5l-3.5 3.5l-3.5 -3.5zM632.6 397.9l3.5 3.5l-3.5 3.5l-3.5 -3.5zM635.2 398.3l3.5 3.5l-3.5 3.5l-3.5 -3.5zM637.9 398.8l3.5 3.5l-3.5 3.5l-3.5 -3.5zM640.5 399.2l3.5 3.5l-3.5 3.5l-3.5 -3.5zM643.2 399.6l3.5 3.5l-3.5 3.5l-3.5 -3.5zM645.8 400.0l3.5 3.5l-3.5 3.5l-3.5 -3.5zM648.5 400.3l3.5 3.5l-3.5 3.5l-3.5 -3.5zM651.1 400.5l3.5 3.5l-3.5 3.5l-3.5 -3.5z"/>
<path fill="#ff6600" d="M120.2 388.3l3.5 3.5l-3.5 3.5l-3.5 -3.5zM122.9 388.0l3.5 3.5l-3.5 3.5l-3.5 -3.5zM125.5 387.6l3.5 3.5l-3.5 3.5l-3.5 -3.5zM128.2 387.2l3.5 3.5l-3.5 3.5l-3.5 -3.5zM130.8 386.7l3.5 3.5l-3.5 3.5l-3.5 -3.5zM133.5 386.2l3.5 3.5l-3.5 3.5l-3.5 -3.5zM136.1 385.7l3.5 3.5l-3.5 3.5l-3.5 -3.5zM138.8 385.1l3.5 3.5l-3.5 3.5l-3.5 -3.5zM141.5 384.4l3.5 3.5l-3.5 3.5l-3.5 -3.5zM144.1 383.8l3.5 3.5l-3.5 3.5l-3.5 -3.5zM146.8 383.1l3.5 3.5l-3.5 3.5l-3.5 -3.5zM149.4 382.4l3.5 3.5l-3.5 3.5l-3.5 -3.5zM152.1 381.7l3.5 3.5l-3.5 3.5l-3.5 -3.5zM154.7 381.0l3.5 3.5l-3.5 3.5l-3.5 -3.5zM157.4 380.3l3.5 3.5l-3.5 3.5l-3.5 -3.5zM160.0 379.6l3.5 3.5l-3.5 3.5l-3.5 -3.5zM162.7 378.9l3.5 3.5l-3.5 3.5l-3.5 -3.5zM165.3 378.1l3.5 3.5l-3.5 3.5l-3.5 -3.5zM168.0 377.3l3.5 3.5l-3.5 3.5l-3.5 -3.5zM170.7 376.6l3.5 3.5l-3.5 3.5l-3.5 -3.5zM173.3 375.7l3.5 3.5l-3.5 3.5l-3.5 -3.5zM176.0 374.9l3.5 3.5l-3.5 3.5l-3.5 -3.5zM178.6 374.0l3.5 3.5l-3.5 3.5l-3.5 -3.5zM181.3 373.1l3.5 3.5l-3.5 3.5l-3.5 -3.5zM183.9 372.2l3.5 3.5l-3.5 3.5l-3.5 -3.5zM186.6 371.3l3.5 3.5l-3.5 3.5l-3.5 -3.5zM189.2 370.3l3.5 3.5l-3.5 3.5l-3.5 -3.5zM191.9 369.3l3.5 3.5l-3.5 3.5l-3.5 -3.5zM194.5 368.3l3.5 3.5l-3.5 3.5l-3.5 -3.5zM197.2 367.3l3.5 3.5l-3.5 3.5l-3.5 -3.5zM199.9 366.3l3.5 3.5l-3.5 3.5l-3.5 -3.5zM202.5 365.2l3.5 3.5l-3.5 3.5l-3.5 -3.5zM205.2 364.2l3.5 3.5l-3.5 3.5l-3.5 -3.5zM207.8 363.1l3.5 3.5l-3.5 3.5l-3.5 -3.5zM210.5 362.1l3.5 3.5l-3.5 3.5l-3.5 -3.5zM213.1 361.0l3.5 3.5l-3.5 3.5l-3.5 -3.5zM215.8 359.9l3.5 3.5l-3.5 3.5l-3.5 -3.5zM218.4 358.8l3.5 3.5l-3.5 3.5l-3.5 -3.5zM221.1 357.6l3.5 3.5l-3.5 3.5l-3.5 -3.5zM223.7 356.4l3.5 3.5l-3.5 3.5l-3.5 -3.5zM226.4 355.1l3.5 3.5l-3.5 3.5l-3.5 -3.5zM229.1 353.8l3.5 3.5l-3.5 3.5l-3.5 -3.5zM231.7 352.4l3.5 3.5l-3.5 3.5l-3.5 -3.5zM234.4 350.9l3.5 3.5l-3.5 3.5l-3.5 -3.5zM237.0 349.3l3.5 3.5l-3.5 3.5l-3.5 -3.5zM239.7 347.7l3.5 3.5l-3.5 3.5l-3.5 -3.5zM242.3 345.9l3.5 3.5l-3.5 3.5l-3.5 -3.5zM245.0 344.0l3.5 3.5l-3.5 3.5l-3.5 -3.5zM247.6 342.0l3.5 3.5l-3.5 3.5l-3.5 -3.5zM250.3 339.9l3.5 3.5l-3.5 3.5l-3.5 -3.5zM252.9 337.8l3.5 3.5l-3.5 3.5l-3.5 -3.5zM255.6 335.5l3.5 3.5l-3.5 3.5l-3.5 -3.5zM258.3 333.2l3.5 3.5l-3.5 3.5l-3.5 -3.5zM260.9 330.7l3.5 3.5l-3.5 3.5l-3.5 -3.5zM263.6 328.2l3.5 3.5l-3.5 3.5l-3.5 -3.5zM266.2 325.6l3.5 3.5l-3.5 3.5l-3.5 -3.5zM268.9 323.0l3.5 3.5l-3.5 3.5l-3.5 -3.5zM271.5 320.2l3.5 3.5l-3.5 3.5l-3.5 -3.5zM274.2 317.4l3.5 3.5l-3.5 3.5l-3.5 -3.5zM276.8 314.5l3.5 3.5l-3.5 3.5l-3.5 -3.5zM279.5 311.6l3.5 3.5l-3.5 3.5l-3.5 -3.5zM282.2 308.5l3.5 3.5l-3.5 3.5l-3.5 -3.5zM284.8 305.4l3.5 3.5l-3.5 3.5l-3.5 -3.5zM287.5 302.2l3.5 3.5l-3.5 3.5l-3.5 -3.5zM290.1 298.9l3.5 3.5l-3.5 3.5l-3.5 -3.5zM292.8 295.5l3.5 3.5l-3.5 3.5l-3.5 -3.5zM295.4 292.1l3.5 3.5l-3.5 3.5l-3.5 -3.5zM298.1 288.5l3.5 3.5l-3.5 3.5l-3.5 -3.5zM300.7 284.9l3.5 3.5l-3.5 3.5l-3.5 -3.5zM303.4 281.2l3.5 3.5l-3.5 3.5l-3.5 -3.5zM306.0 277.4l3.5 3.5l-3.5 3.5l-3.5 -3.5zM308.7 273.5l3.5 3.5l-3.5 3.5l-3.5 -3.5zM311.4 269.5l3.5 3.5l-3.5 3.5l-3.5 -3.5zM314.0 265.4l3.5 3.5l-3.5 3.5l-3.5 -3.5zM316.7 261.2l3.5 3.5l-3.5 3.5l-3.5 -3.5zM319.3 256.9l3.5 3.5l-3.5 3.5l-3.5 -3.5zM322.0 252.5l3.5 3.5l-3.5 3.5l-3.5 -3.5zM324.6 248.0l3.5 3.5l-3.5 3.5l-3.5 -3.5zM327.3 243.4l3.5 3.5l-3.5 3.5l-3.5 -3.5zM329.9 238.6l3.5 3.5l-3.5 3.5l-3.5 -3.5zM332.6 233.8l3.5 3.5l-3.5 3.5l-3.5 -3.5zM335.2 228.9l3.5 3.5l-3.5 3.5l-3.5 -3.5zM337.9 223.8l3.5 3.5l-3.5 3.5l-3.5 -3.5zM340.6 218.7l3.5 3.5l-3.5 3.5l-3.5 -3.5zM343.2 213.6l3.5 3.5l-3.5 3.5l-3.5 -3.5zM345.9 208.3l3.5 3.5l-3.5 3.5l-3.5 -3.5zM348.5 203.0l3.5 3.5l-3.5 3.5l-3.5 -3.5zM351.2 197.7l3.5 3.5l-3.5 3.5l-3.5 -3.5zM353.8 192.3l3.5 3.5l-3.5 3.5l-3.5 -3.5zM356.5 186.9l3.5 3.5l-3.5 3.5l-3.5 -3.5zM359.1 181.5l3.5 3.5l-3.5 3.5l-3.5 -3.5zM361.8 176.0l3.5 3.5l-3.5 3.5l-3.5 -3.5zM364.4 170.6l3.5 3.5l-3.5 3.5l-3.5 -3.5zM367.1 165.3l3.5 3.5l-3.5 3.5l-3.5 -3.5zM369.8 160.1l3.5 3.5l-3.5 3.5l-3.5 -3.5zM372.4 155.0l3.5 3.5l-3.5 3.5l-3.5 -3.5zM375.1 150.0l3.5 3.5l-3.5 3.5l-3.5 -3.5zM377.7 145.3l3.5 3.5l-3.5 3.5l-3.5 -3.5zM380.4 140.8l3.5 3.5l-3.5 3.5l-3.5 -3.5zM383.0 136.6l3.5 3.5l-3.5 3.5l-3.5 -3.5zM385.7 132.7l3.5 3.5l-3.5 3.5l-3.5 -3.5zM388.3 129.2l3.5 3.5l-3.5 3.5l-3.5 -3.5zM391.0 126.0l3.5 3.5l-3.5 3.5l-3.5 -3.5zM393.6 123.2l3.5 3.5l-3.5 3.5l-3.5 -3.5zM396.3 120.8l3.5 3.5l-3.5 3.5l-3.5 -3.5zM399.0 118.9l3.5 3.5l-3.5 3.5l-3.5 -3.5zM401.6 117.3l3.5 3.5l-3.5 3.5l-3.5 -3.5zM404.3 116.1l3.5 3.5l-3.5 3.5l-3.5 -3.5zM406.9 115.4l3.5 3.5l-3.5 3.5l-3.5 -3.5zM409.6 115.1l3.5 3.5l-3.5 3.5l-3.5 -3.5zM412.2 115.1l3.5 3.5l-3.5 3.5l-3.5 -3.5zM414.9 115.7l3.5 3.5l-3.5 3.5l-3.5 -3.5zM417.5 116.6l3.5 3.5l-3.5 3.5l-3.5 -3.5zM420.2 118.0l3.5 3.5l-3.5 3.5l-3.5 -3.5zM422.8 119.8l3.5 3.5l-3.5 3.5l-3.5 -3.5zM425.5 122.0l3.5 3.5l-3.5 3.5l-3.5 -3.5zM428.2 124.5l3.5 3.5l-3.5 3.5l-3.5 -3.5zM430.8 127.5l3.5 3.5l-3.5 3.5l-3.5 -3.5zM433.5 130.8l3.5 3.5l-3.5 3.5l-3.5 -3.5zM436.1 134.4l3.5 3.5l-3.5 3.5l-3.5 -3.5zM438.8 138.3l3.5 3.5l-3.5 3.5l-3.5 -3.5zM441.4 142.5l3.5 3.5l-3.5 3.5l-3.5 -3.5zM444.1 147.0l3.5 3.5l-3.5 3.5l-3.5 -3.5zM446.7 151.8l3.5 3.5l-3.5 3.5l-3.5 -3.5zM449.4 156.7l3.5 3.5l-3.5 3.5l-3.5 -3.5zM452.0 161.9l3.5 3.5l-3.5 3.5l-3.5 -3.5zM454.7 167.2l3.5 3.5l-3.5 3.5l-3.5 -3.5zM457.4 172.7l3.5 3.5l-3.5 3.5l-3.5 -3.5zM460.0 178.4l3.5 3.5l-3.5 3.5l-3.5 -3.5zM462.7 184.2l3.5 3.5l-3.5 3.5l-3.5 -3.5zM465.3 190.0l3.5 3.5l-3.5 3.5l-3.5 -3.5zM468.0 195.9l3.5 3.5l-3.5 3.5l-3.5 -3.5zM470.6 201.9l3.5 3.5l-3.5 3.5l-3.5 -3.5zM473.3 207.9l3.5 3.5l-3.5 3.5l-3.5 -3.5zM475.9 213.8l3.5 3.5l-3.5 3.5l-3.5 -3.5zM478.6 219.8l3.5 3.5l-3.5 3.5l-3.5 -3.5zM481.2 225.7l3.5 3.5l-3.5 3.5l-3.5 -3.5zM483.9 231.5l3.5 3.5l-3.5 3.5l-3.5 -3.5zM486.6 237.2l3.5 3.5l-3.5 3.5l-3.5 -3.5zM489.2 242.9l3.5 3.5l-3.5 3.5l-3.5 -3.5zM491.9 248.4l3.5 3.5l-3.5 3.5l-3.5 -3.5zM494.5 253.9l3.5 3.5l-3.5 3.5l-3.5 -3.5zM497.2 259.3l3.5 3.5l-3.5 3.5l-3.5 -3.5zM499.8 264.5l3.5 3.5l-3.5 3.5l-3.5 -3.5zM502.5 269.7l3.5 3.5l-3.5 3.5l-3.5 -3.5zM505.1 274.7l3.5 3.5l-3.5 3.5l-3.5 -3.5zM507.8 279.5l3.5 3.5l-3.5 3.5l-3.5 -3.5zM510.4 284.2l3.5 3.5l-3.5 3.5l-3.5 -3.5zM513.1 288.8l3.5 3.5l-3.5 3.5l-3.5 -3.5zM515.8 293.2l3.5 3.5l-3.5 3.5l-3.5 -3.5zM518.4 297.4l3.5 3.5l-3.5 3.5l-3.5 -3.5zM521.1 301.6l3.5 3.5l-3.5 3.5l-3.5 -3.5zM523.7 305.5l3.5 3.5l-3.5 3.5l-3.5 -3.5zM526.4 309.4l3.5 3.5l-3.5 3.5l-3.5 -3.5zM529.0 313.1l3.5 3.5l-3.5 3.5l-3.5 -3.5zM531.7 316.7l3.5 3.5l-3.5 3.5l-3.5 -3.5zM534.3 320.1l3.5 3.5l-3.5 3.5l-3.5 -3.5zM537.0 323.5l3.5 3.5l-3.5 3.5l-3.5 -3.5zM539.6 326.7l3.5 3.5l-3.5 3.5l-3.5 -3.5zM542.3 329.8l3.5 3.5l-3.5 3.5l-3.5 -3.5zM545.0 332.7l3.5 3.5l-3.5 3.5l-3.5 -3.5zM547.6 335.6l3.5 3.5l-3.5 3.5l-3.5 -3.5zM550.3 338.4l3.5 3.5l-3.5 3.5l-3.5 -3.5zM552.9 341.0l3.5 3.5l-3.5 3.5l-3.5 -3.5zM555.6 343.6l3.5 3.5l-3.5 3.5l-3.5 -3.5zM558.2 346.0l3.5 3.5l-3.5 3.5l-3.5 -3.5zM560.9 348.4l3.5 3.5l-3.5 3.5l-3.5 -3.5zM563.5 350.7l3.5 3.5l-3.5 3.5l-3.5 -3.5zM566.2 352.9l3.5 3.5l-3.5 3.5l-3.5 -3.5zM568.8 355.0l3.5 3.5l-3.5 3.5l-3.5 -3.5zM571.5 357.0l3.5 3.5l-3.5 3.5l-3.5 -3.5zM574.2 358.9l3.5 3.5l-3.5 3.5l-3.5 -3.5zM576.8 360.8l3.5 3.5l-3.5 3.5l-3.5 -3.5zM579.5 362.6l3.5 3.5l-3.5 3.5l-3.5 -3.5zM582.1 364.3l3.5 3.5l-3.5 3.5l-3.5 -3.5zM584.8 366.0l3.5 3.5l-3.5 3.5l-3.5 -3.5zM587.4 367.6l3.5 3.5l-3.5 3.5l-3.5 -3.5zM590.1 369.0l3.5 3.5l-3.5 3.5l-3.5 -3.5zM592.7 370.5l3.5 3.5l-3.5 3.5l-3.5 -3.5zM595.4 371.8l3.5 3.5l-3.5 3.5l-3.5 -3.5zM598.0 373.1l3.5 3.5l-3.5 3.5l-3.5 -3.5zM600.7 374.3l3.5 3.5l-3.5 3.5l-3.5 -3.5zM603.4 375.4l3.5 3.5l-3.5 3.5l-3.5 -3.5zM606.0 376.5l3.5 3.5l-3.5 3.5l-3.5 -3.5zM608.7 377.5l3.5 3.5l-3.5 3.5l-3.5 -3.5zM611.3 378.5l3.5 3.5l-3.5 3.5l-3.5 -3.5zM614.0 379.4l3.5 3.5l-3.5 3.5l-3.5 -3.5zM616.6 380.2l3.5 3.5l-3.5 3.5l-3.5 -3.5zM619.3 381.0l3.5 3.5l-3.5 3.5l-3.5 -3.5zM621.9 381.8l3.5 3.5l-3.5 3.5l-3.5 -3.5zM624.6 382.5l3.5 3.5l-3.5 3.5l-3.5 -3.5zM627.2 383.2l3.5 3.5l-3.5 3.5l-3.5 -3.5zM629.9 383.9l3.5 3.5l-3.5 3.5l-3.5 -3.5zM632.6 384.5l3.5 3.5l-3.5 3.5l-3.5 -3.5zM635.2 385.2l3.5 3.5l-3.5 3.5l-3.5 -3.5zM637.9 385.8l3.5 3.5l-3.5 3.5l-3.5 -3.5zM640.5 386.5l3.5 3.5l-3.5 3.5l-3.5 -3.5zM643.2 387.2l3.5 3.5l-3.5 3.5l-3.5 -3.5zM645.8 387.9l3.5 3.5l-3.5 3.5l-3.5 -3.5zM648.5 388.7l3.5 3.5l-3.5 3.5l-3.5 -3.5zM651.1 389.6l3.5 3.5l-3.5 3.5l-3.5 -3.5z"/>
<path fill="#0000ff" d="M120.2 400.5l3.5 3.5l-3.5 3.5l-3.5 -3.5zM122.9 400.3l3.5 3.5l-3.5 3.5l-3.5 -3.5zM125.5 400.1l3.5 3.5l-3.5 3.5l-3.5 -3.5zM128.2 399.9l3.5 3.5l-3.5 3.5l-3.5 -3.5zM130.8 399.7l3.5 3.5l-3.5 3.5l-3.5 -3.5zM133.5 399.5l3.5 3.5l-3.5 3.5l-3.5 -3.5zM136.1 399.3l3.5 3.5l-3.5 3.5l-3.5 -3.5zM138.8 399.1l3.5 3.5l-3.5 3.5l-3.5 -3.5zM141.5 398.9l3.5 3.5l-3.5 3.5l-3.5 -3.5zM144.1 398.7l3.5 3.5l-3.5 3.5l-3.5 -3.5zM146.8 398.5l3.5 3.5l-3.5 3.5l-3.5 -3.5zM149.4 398.3l3.5 3.5l-3.5 3.5l-3.5 -3.5zM152.1 398.1l3.5 3.5l-3.5 3.5l-3.5 -3.5zM154.7 398.0l3.5 3.5l-3.5 3.5l-3.5 -3.5zM157.4 397.8l3.5 3.5l-3.5 3.5l-3.5 -3.5zM160.0 397.6l3.5 3.5l-3.5 3.5l-3.5 -3.5zM162.7 397.3l3.5 3.5l-3.5 3.5l-3.5 -3.5zM165.3 397.1l3.5 3.5l-3.5 3.5l-3.5 -3.5zM168.0 396.9l3.5 3.5l-3.5 3.5l-3.5 -3.5zM170.7 396.6l3.5 3.5l-3.5 3.5l-3.5 -3.5zM173.3 396.3l3.5 3.5l-3.5 3.5l-3.5 -3.5zM176.0 396.0l3.5 3.5l-3.5 3.5l-3.5 -3.5zM178.6 395.6l3.5 3.5l-3.5 3.5l-3.5 -3.5zM181.3 395.2l3.5 3.5l-3.5 3.5l-3.5 -3.5zM183.9 394.8l3.5 3.5l-3.5 3.5l-3.5 -3.5zM186.6 394.3l3.5 3.5l-3.5 3.5l-3.5 -3.5zM189.2 393.8l3.5 3.5l-3.5 3.5l-3.5 -3.5zM191.9 393.3l3.5 3.5l-3.5 3.5l-3.5 -3.5zM194.5 392.8l3.5 3.5l-3.5 3.5l-3.5 -3.5zM197.2 392.3l3.5 3.5l-3.5 3.5l-3.5 -3.5zM199.9 391.8l3.5 3.5l-3.5 3.5l-3.5 -3.5zM202.5 391.3l3.5 3.5l-3.5 3.5l-3.5 -3.5zM205.2 390.8l3.5 3.5l-3.5 3.5l-3.5 -3.5zM207.8 390.3l3.5 3.5l-3.5 3.5l-3.5 -3.5zM210.5 389.8l3.5 3.5l-3.5 3.5l-3.5 -3.5zM213.1 389.3l3.5 3.5l-3.5 3.5l-3.5 -3.5zM215.8 388.9l3.5 3.5l-3.5 3.5l-3.5 -3.5zM218.4 388.4l3.5 3.5l-3.5 3.5l-3.5 -3.5zM221.1 387.9l3.5 3.5l-3.5 3.5l-3.5 -3.5zM223.7 387.5l3.5 3.5l-3.5 3.5l-3.5 -3.5zM226.4 387.0l3.5 3.5l-3.5 3.5l-3.5 -3.5zM229.1 386.5l3.5 3.5l-3.5 3.5l-3.5 -3.5zM231.7 385.9l3.5 3.5l-3.5 3.5l-3.5 -3.5zM234.4 385.3l3.5 3.5l-3.5 3.5l-3.5 -3.5zM237.0 384.7l3.5 3.5l-3.5 3.5l-3.5 -3.5zM239.7 384.1l3.5 3.5l-3.5 3.5l-3.5 -3.5zM242.3 383.3l3.5 3.5l-3.5 3.5l-3.5 -3.5zM245.0 382.6l3.5 3.5l-3.5 3.5l-3.5 -3.5zM247.6 381.8l3.5 3.5l-3.5 3.5l-3.5 -3.5zM250.3 380.9l3.5 3.5l-3.5 3.5l-3.5 -3.5zM252.9 380.1l3.5 3.5l-3.5 3.5l-3.5 -3.5zM255.6 379.2l3.5 3.5l-3.5 3.5l-3.5 -3.5zM258.3 378.2l3.5 3.5l-3.5 3.5l-3.5 -3.5zM260.9 377.3l3.5 3.5l-3.5 3.5l-3.5 -3.5zM263.6 376.3l3.5 3.5l-3.5 3.5l-3.5 -3.5zM266.2 375.4l3.5 3.5l-3.5 3.5l-3.5 -3.5zM268.9 374.4l3.5 3.5l-3.5 3.5l-3.5 -3.5zM271.5 373.4l3.5 3.5l-3.5 3.5l-3.5 -3.5zM274.2 372.4l3.5 3.5l-3.5 3.5l-3.5 -3.5zM276.8 371.4l3.5 3.5l-3.5 3.5l-3.5 -3.5zM279.5 370.4l3.5 3.5l-3.5 3.5l-3.5 -3.5zM282.2 369.3l3.5 3.5l-3.5 3.5l-3.5 -3.5zM284.8 368.2l3.5 3.5l-3.5 3.5l-3.5 -3.5zM287.5 367.0l3.5 3.5l-3.5 3.5l-3.5 -3.5zM290.1 365.8l3.5 3.5l-3.5 3.5l-3.5 -3.5zM292.8 364.5l3.5 3.5l-3.5 3.5l-3.5 -3.5zM295.4 363.1l3.5 3.5l-3.5 3.5l-3.5 -3.5zM298.1 361.7l3.5 3.5l-3.5 3.5l-3.5 -3.5zM300.7 360.2l3.5 3.5l-3.5 3.5l-3.5 -3.5zM303.4 358.5l3.5 3.5l-3.5 3.5l-3.5 -3.5zM306.0 356.8l3.5 3.5l-3.5 3.5l-3.5 -3.5zM308.7 355.0l3.5 3.5l-3.5 3.5l-3.5 -3.5zM311.4 353.1l3.5 3.5l-3.5 3.5l-3.5 -3.5zM314.0 351.1l3.5 3.5l-3.5 3.5l-3.5 -3.5zM316.7 349.0l3.5 3.5l-3.5 3.5l-3.5 -3.5zM319.3 346.9l3.5 3.5l-3.5 3.5l-3.5 -3.5zM322.0 344.7l3.5 3.5l-3.5 3.5l-3.5 -3.5zM324.6 342.4l3.5 3.5l-3.5 3.5l-3.5 -3.5zM327.3 340.0l3.5 3.5l-3.5 3.5l-3.5 -3.5zM329.9 337.6l3.5 3.5l-3.5 3.5l-3.5 -3.5zM332.6 335.1l3.5 3.5l-3.5 3.5l-3.5 -3.5zM335.2 332.5l3.5 3.5l-3.5 3.5l-3.5 -3.5zM337.9 329.9l3.5 3.5l-3.5 3.5l-3.5 -3.5zM340.6 327.1l3.5 3.5l-3.5 3.5l-3.5 -3.5zM343.2 324.3l3.5 3.5l-3.5 3.5l-3.5 -3.5zM345.9 321.3l3.5 3.5l-3.5 3.5l-3.5 -3.5zM348.5 318.3l3.5 3.5l-3.5 3.5l-3.5 -3.5zM351.2 315.1l3.5 3.5l-3.5 3.5l-3.5 -3.5zM353.8 311.8l3.5 3.5l-3.5 3.5l-3.5 -3.5zM356.5 308.4l3.5 3.5l-3.5 3.5l-3.5 -3.5zM359.1 304.9l3.5 3.5l-3.5 3.5l-3.5 -3.5zM361.8 301.2l3.5 3.5l-3.5 3.5l-3.5 -3.5zM364.4 297.4l3.5 3.5l-3.5 3.5l-3.5 -3.5zM367.1 293.4l3.5 3.5l-3.5 3.5l-3.5 -3.5zM369.8 289.4l3.5 3.5l-3.5 3.5l-3.5 -3.5zM372.4 285.2l3.5 3.5l-3.5 3.5l-3.5 -3.5zM375.1 280.9l3.5 3.5l-3.5 3.5l-3.5 -3.5zM377.7 276.4l3.5 3.5l-3.5 3.5l-3.5 -3.5zM380.4 271.9l3.5 3.5l-3.5 3.5l-3.5 -3.5zM383.0 267.2l3.5 3.5l-3.5 3.5l-3.5 -3.5zM385.7 262.5l3.5 3.5l-3.5 3.5l-3.5 -3.5zM388.3 257.6l3.5 3.5l-3.5 3.5l-3.5 -3.5zM391.0 252.6l3.5 3.5l-3.5 3.5l-3.5 -3.5zM393.6 247.5l3.5 3.5l-3.5 3.5l-3.5 -3.5zM396.3 242.3l3.5 3.5l-3.5 3.5l-3.5 -3.5zM399.0 237.0l3.5 3.5l-3.5 3.5l-3.5 -3.5zM401.6 231.7l3.5 3.5l-3.5 3.5l-3.5 -3.5zM404.3 226.3l3.5 3.5l-3.5 3.5l-3.5 -3.5zM406.9 220.9l3.5 3.5l-3.5 3.5l-3.5 -3.5zM409.6 215.4l3.5 3.5l-3.5 3.5l-3.5 -3.5zM412.2 209.8l3.5 3.5l-3.5 3.5l-3.5 -3.5zM414.9 204.3l3.5 3.5l-3.5 3.5l-3.5 -3.5zM417.5 198.7l3.5 3.5l-3.5 3.5l-3.5 -3.5zM420.2 193.1l3.5 3.5l-3.5 3.5l-3.5 -3.5zM422.8 187.5l3.5 3.5l-3.5 3.5l-3.5 -3.5zM425.5 182.0l3.5 3.5l-3.5 3.5l-3.5 -3.5zM428.2 176.5l3.5 3.5l-3.5 3.5l-3.5 -3.5zM430.8 171.1l3.5 3.5l-3.5 3.5l-3.5 -3.5zM433.5 165.9l3.5 3.5l-3.5 3.5l-3.5 -3.5zM436.1 160.8l3.5 3.5l-3.5 3.5l-3.5 -3.5zM438.8 156.0l3.5 3.5l-3.5 3.5l-3.5 -3.5zM441.4 151.3l3.5 3.5l-3.5 3.5l-3.5 -3.5zM444.1 146.9l3.5 3.5l-3.5 3.5l-3.5 -3.5zM446.7 142.8l3.5 3.5l-3.5 3.5l-3.5 -3.5zM449.4 139.0l3.5 3.5l-3.5 3.5l-3.5 -3.5zM452.0 135.6l3.5 3.5l-3.5 3.5l-3.5 -3.5zM454.7 132.5l3.5 3.5l-3.5 3.5l-3.5 -3.5zM457.4 129.8l3.5 3.5l-3.5 3.5l-3.5 -3.5zM460.0 127.5l3.5 3.5l-3.5 3.5l-3.5 -3.5zM462.7 125.6l3.5 3.5l-3.5 3.5l-3.5 -3.5zM465.3 124.1l3.5 3.5l-3.5 3.5l-3.5 -3.5zM468.0 123.1l3.5 3.5l-3.5 3.5l-3.5 -3.5zM470.6 122.5l3.5 3.5l-3.5 3.5l-3.5 -3.5zM473.3 122.3l3.5 3.5l-3.5 3.5l-3.5 -3.5zM475.9 122.7l3.5 3.5l-3.5 3.5l-3.5 -3.5zM478.6 123.5l3.5 3.5l-3.5 3.5l-3.5 -3.5zM481.2 124.8l3.5 3.5l-3.5 3.5l-3.5 -3.5zM483.9 126.6l3.5 3.5l-3.5 3.5l-3.5 -3.5zM486.6 128.9l3.5 3.5l-3.5 3.5l-3.5 -3.5zM489.2 131.6l3.5 3.5l-3.5 3.5l-3.5 -3.5zM491.9 134.7l3.5 3.5l-3.5 3.5l-3.5 -3.5zM494.5 138.1l3.5 3.5l-3.5 3.5l-3.5 -3.5zM497.2 141.9l3.5 3.5l-3.5 3.5l-3.5 -3.5zM499.8 146.1l3.5 3.5l-3.5 3.5l-3.5 -3.5zM502.5 150.5l3.5 3.5l-3.5 3.5l-3.5 -3.5zM505.1 155.2l3.5 3.5l-3.5 3.5l-3.5 -3.5zM507.8 160.2l3.5 3.5l-3.5 3.5l-3.5 -3.5zM510.4 165.4l3.5 3.5l-3.5 3.5l-3.5 -3.5zM513.1 170.7l3.5 3.5l-3.5 3.5l-3.5 -3.5zM515.8 176.3l3.5 3.5l-3.5 3.5l-3.5 -3.5zM518.4 182.0l3.5 3.5l-3.5 3.5l-3.5 -3.5zM521.1 187.8l3.5 3.5l-3.5 3.5l-3.5 -3.5zM523.7 193.6l3.5 3.5l-3.5 3.5l-3.5 -3.5zM526.4 199.6l3.5 3.5l-3.5 3.5l-3.5 -3.5zM529.0 205.6l3.5 3.5l-3.5 3.5l-3.5 -3.5zM531.7 211.6l3.5 3.5l-3.5 3.5l-3.5 -3.5zM534.3 217.5l3.5 3.5l-3.5 3.5l-3.5 -3.5zM537.0 223.5l3.5 3.5l-3.5 3.5l-3.5 -3.5zM539.6 229.4l3.5 3.5l-3.5 3.5l-3.5 -3.5zM542.3 235.1l3.5 3.5l-3.5 3.5l-3.5 -3.5zM545.0 240.8l3.5 3.5l-3.5 3.5l-3.5 -3.5zM547.6 246.4l3.5 3.5l-3.5 3.5l-3.5 -3.5zM550.3 251.9l3.5 3.5l-3.5 3.5l-3.5 -3.5zM552.9 257.3l3.5 3.5l-3.5 3.5l-3.5 -3.5zM555.6 262.6l3.5 3.5l-3.5 3.5l-3.5 -3.5zM558.2 267.8l3.5 3.5l-3.5 3.5l-3.5 -3.5zM560.9 272.8l3.5 3.5l-3.5 3.5l-3.5 -3.5zM563.5 277.7l3.5 3.5l-3.5 3.5l-3.5 -3.5zM566.2 282.5l3.5 3.5l-3.5 3.5l-3.5 -3.5zM568.8 287.2l3.5 3.5l-3.5 3.5l-3.5 -3.5zM571.5 291.7l3.5 3.5l-3.5 3.5l-3.5 -3.5zM574.2 296.1l3.5 3.5l-3.5 3.5l-3.5 -3.5zM576.8 300.4l3.5 3.5l-3.5 3.5l-3.5 -3.5zM579.5 304.5l3.5 3.5l-3.5 3.5l-3.5 -3.5zM582.1 308.5l3.5 3.5l-3.5 3.5l-3.5 -3.5zM584.8 312.3l3.5 3.5l-3.5 3.5l-3.5 -3.5zM587.4 316.0l3.5 3.5l-3.5 3.5l-3.5 -3.5zM590.1 319.5l3.5 3.5l-3.5 3.5l-3.5 -3.5zM592.7 322.9l3.5 3.5l-3.5 3.5l-3.5 -3.5zM595.4 326.2l3.5 3.5l-3.5 3.5l-3.5 -3.5zM598.0 329.2l3.5 3.5l-3.5 3.5l-3.5 -3.5zM600.7 332.2l3.5 3.5l-3.5 3.5l-3.5 -3.5zM603.4 335.0l3.5 3.5l-3.5 3.5l-3.5 -3.5zM606.0 337.6l3.5 3.5l-3.5 3.5l-3.5 -3.5zM608.7 340.2l3.5 3.5l-3.5 3.5l-3.5 -3.5zM611.3 342.6l3.5 3.5l-3.5 3.5l-3.5 -3.5zM614.0 344.9l3.5 3.5l-3.5 3.5l-3.5 -3.5zM616.6 347.1l3.5 3.5l-3.5 3.5l-3.5 -3.5zM619.3 349.3l3.5 3.5l-3.5 3.5l-3.5 -3.5zM621.9 351.3l3.5 3.5l-3.5 3.5l-3.5 -3.5zM624.6 353.4l3.5 3.5l-3.5 3.5l-3.5 -3.5zM627.2 355.4l3.5 3.5l-3.5 3.5l-3.5 -3.5zM629.9 357.3l3.5 3.5l-3.5 3.5l-3.5 -3.5zM632.6 359.2l3.5 3.5l-3.5 3.5l-3.5 -3.5zM635.2 361.1l3.5 3.5l-3.5 3.5l-3.5 -3.5zM637.9 362.9l3.5 3.5l-3.5 3.5l-3.5 -3.5zM640.5 364.7l3.5 3.5l-3.5 3.5l-3.5 -3.5zM643.2 366.5l3.5 3.5l-3.5 3.5l-3.5 -3.5zM645.8 368.1l3.5 3.5l-3.5 3.5l-3.5 -3.5zM648.5 369.7l3.5 3.5l-3.5 3.5l-3.5 -3.5zM651.1 371.2l3.5 3.5l-3.5 3.5l-3.5 -3.5z"/>
<rect x="58.5" y="5.5" width="617.2" height="413.4" fill="none" stroke="#000" stroke-width="2.1"/>
<text transform="translate(46.3 423.6) scale(1 1.07)" font-size="15.3" text-anchor="end">0</text>
<text transform="translate(46.3 382.3) scale(1 1.07)" font-size="15.3" text-anchor="end">2</text>
<text transform="translate(46.3 340.9) scale(1 1.07)" font-size="15.3" text-anchor="end">4</text>
<text transform="translate(46.3 299.6) scale(1 1.07)" font-size="15.3" text-anchor="end">6</text>
<text transform="translate(46.3 258.2) scale(1 1.07)" font-size="15.3" text-anchor="end">8</text>
<text transform="translate(46.3 216.9) scale(1 1.07)" font-size="15.3" text-anchor="end">10</text>
<text transform="translate(46.3 175.6) scale(1 1.07)" font-size="15.3" text-anchor="end">12</text>
<text transform="translate(46.3 134.2) scale(1 1.07)" font-size="15.3" text-anchor="end">14</text>
<text transform="translate(46.3 92.9) scale(1 1.07)" font-size="15.3" text-anchor="end">16</text>
<text transform="translate(46.3 51.5) scale(1 1.07)" font-size="15.3" text-anchor="end">18</text>
<text transform="translate(46.3 10.2) scale(1 1.07)" font-size="15.3" text-anchor="end">20</text>
<text transform="translate(58.5 448.8) scale(1 1.07)" font-size="15.3" text-anchor="middle">1.5</text>
<text transform="translate(120.2 448.8) scale(1 1.07)" font-size="15.3" text-anchor="middle">2</text>
<text transform="translate(181.9 448.8) scale(1 1.07)" font-size="15.3" text-anchor="middle">2.5</text>
<text transform="translate(243.7 448.8) scale(1 1.07)" font-size="15.3" text-anchor="middle">3</text>
<text transform="translate(305.4 448.8) scale(1 1.07)" font-size="15.3" text-anchor="middle">3.5</text>
<text transform="translate(367.1 448.8) scale(1 1.07)" font-size="15.3" text-anchor="middle">4</text>
<text transform="translate(428.8 448.8) scale(1 1.07)" font-size="15.3" text-anchor="middle">4.5</text>
<text transform="translate(490.5 448.8) scale(1 1.07)" font-size="15.3" text-anchor="middle">5</text>
<text transform="translate(552.3 448.8) scale(1 1.07)" font-size="15.3" text-anchor="middle">5.5</text>
<text transform="translate(614.0 448.8) scale(1 1.07)" font-size="15.3" text-anchor="middle">6</text>
<text transform="translate(675.7 448.8) scale(1 1.07)" font-size="15.3" text-anchor="middle">6.5</text>
<path d="M53.2 418.9H58.5M53.2 377.6H58.5M53.2 336.2H58.5M53.2 294.9H58.5M53.2 253.5H58.5M53.2 212.2H58.5M53.2 170.9H58.5M53.2 129.5H58.5M53.2 88.2H58.5M53.2 46.8H58.5M53.2 5.5H58.5M58.5 418.9V424.3M120.2 418.9V424.3M181.9 418.9V424.3M243.7 418.9V424.3M305.4 418.9V424.3M367.1 418.9V424.3M428.8 418.9V424.3M490.5 418.9V424.3M552.3 418.9V424.3M614.0 418.9V424.3M675.7 418.9V424.3" stroke="#000" stroke-width="1.3" fill="none"/>
<text x="366.5" y="468.6" font-size="15.6" font-weight="bold" text-anchor="middle" textLength="45.5" lengthAdjust="spacingAndGlyphs">Log (f)</text>
<text transform="translate(14.9 203.2) rotate(-90)" font-size="19.5" text-anchor="middle" textLength="42.4" lengthAdjust="spacingAndGlyphs">tan δ</text>
<rect x="67.8" y="14" width="95.6" height="132.2" fill="#fff"/>
<path d="M67.8 14H163.4M67.8 14V146.2M67.8 146.2H163.4M163.4 14V146.2" fill="none" stroke="#000" stroke-width="1.25" stroke-dasharray="6.2 3.8"/>
<path fill="#00ff00" d="M78 23.3l3.7 3.7l-3.7 3.7l-3.7 -3.7z"/>
<text x="87" y="31.9" font-size="16" textLength="73.4" lengthAdjust="spacingAndGlyphs">CSPCFSN1</text>
<path fill="#ffcc99" d="M78 49.4l3.7 3.7l-3.7 3.7l-3.7 -3.7z"/>
<text x="87" y="58.0" font-size="16" textLength="73.4" lengthAdjust="spacingAndGlyphs">CSPCFSN2</text>
<path fill="#00ccff" d="M78 75.5l3.7 3.7l-3.7 3.7l-3.7 -3.7z"/>
<text x="87" y="84.1" font-size="16" textLength="73.4" lengthAdjust="spacingAndGlyphs">CSPCFSN3</text>
<path fill="#ff6600" d="M78 101.6l3.7 3.7l-3.7 3.7l-3.7 -3.7z"/>
<text x="87" y="110.2" font-size="16" textLength="73.4" lengthAdjust="spacingAndGlyphs">CSPCFSN4</text>
<path fill="#0000ff" d="M78 127.7l3.7 3.7l-3.7 3.7l-3.7 -3.7z"/>
<text x="87" y="136.3" font-size="16" textLength="73.4" lengthAdjust="spacingAndGlyphs">CSPCFSN5</text>
</svg></body></html>
